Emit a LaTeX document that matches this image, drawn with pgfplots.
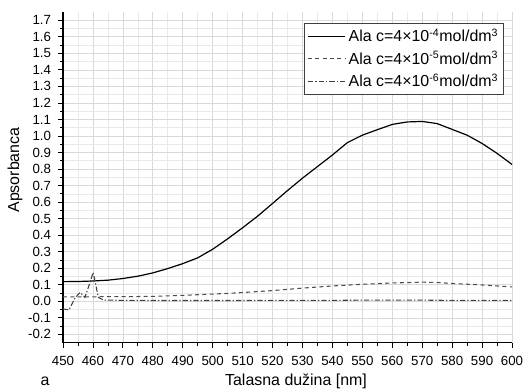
\documentclass[border=0pt]{standalone}
\usepackage{fontspec}
\setmainfont{Liberation Sans}
\usepackage{pgfplots}
\pgfplotsset{compat=1.18}
\begin{document}
\begin{tikzpicture}
\begin{axis}[
  scale only axis, width=336.75bp, height=248bp,
  xmin=450, xmax=600, ymin=-0.25, ymax=1.75,
  axis x line*=bottom, axis y line*=left,
  axis line style={black, line width=0.8pt, -},
  xtick={450,460,...,600}, minor x tick num=1,
  ytick={-0.2,-0.1,0,0.1,0.2,0.3,0.4,0.5,0.6,0.7,0.8,0.9,1.0,1.1,1.2,1.3,1.4,1.5,1.6,1.7},
  minor y tick num=1,
  tick align=outside,
  major tick length=4bp, minor tick length=2.5bp,
  tick style={black, line width=0.6pt},
  grid=both,
  major grid style={gray!30, line width=0.5pt},
  minor grid style={gray!17, line width=0.5pt},
  /pgf/number format/assume math mode=true,
  y tick label style={/pgf/number format/fixed, /pgf/number format/fixed zerofill, /pgf/number format/precision=1, xshift=-1.5bp},
  x tick label style={yshift=-2.5bp},
  tick label style={font=\fontsize{10}{12}\selectfont},
  xlabel={Talasna dužina [nm]},
  ylabel={Apsorbanca},
  label style={font=\fontsize{12}{14}\selectfont},
  xlabel style={at={(axis description cs:0.519,0)}, anchor=center, yshift=-28.7bp},
  ylabel style={at={(axis description cs:0,0.522)}, anchor=center, yshift=36bp},
  legend style={at={(axis description cs:1,1)}, anchor=north east, xshift=-6bp, yshift=-8.25bp,
    draw=black!75, line width=0.6pt, font=\fontsize{12}{14}\selectfont, fill=white,
    row sep=1.5bp, inner sep=2bp},
  legend cell align=left,
  legend image code/.code={\draw[#1] (0bp,0bp) -- (28bp,0bp);},
  clip=false,
]
\addplot[black, line width=0.9pt] coordinates {
(450,0.119) (455,0.120) (460,0.123) (465,0.128) (470,0.138) (475,0.152) (480,0.172)
(485,0.198) (490,0.228) (495,0.263) (500,0.315) (505,0.378) (510,0.445) (515,0.515)
(520,0.592) (525,0.670) (530,0.745) (535,0.815) (540,0.885) (545,0.960) (550,1.005)
(555,1.038) (560,1.070) (565,1.085) (570,1.088) (575,1.075) (580,1.040) (585,1.005)
(590,0.955) (595,0.895) (600,0.828)};
\addlegendentry{Ala c=4×10\textsuperscript{-4}mol/dm\textsuperscript{3}}
\addplot[black!70, line width=0.8pt, dash pattern=on 3bp off 2.5bp] coordinates {
(450,0.027) (455,0.027) (460,0.027) (462,0.028) (470,0.028) (480,0.030) (490,0.036)
(500,0.044) (505,0.048) (510,0.053) (520,0.065) (530,0.080) (540,0.093) (550,0.103)
(560,0.111) (570,0.116) (575,0.114) (580,0.108) (590,0.099) (600,0.087)};
\addlegendentry{Ala c=4×10\textsuperscript{-5}mol/dm\textsuperscript{3}}
\addplot[black!75, line width=0.8pt, dash pattern=on 4bp off 1.5bp on 1bp off 1.5bp] coordinates {
(450,-0.046) (452,-0.052) (454,0.02) (455.7,0.054) (457.3,0.024) (458.1,0.064)
(460.1,0.175) (461.8,0.024) (463.5,0.008) (470,0.006) (480,0.005) (490,0.005)
(500,0.005) (510,0.005) (520,0.006) (530,0.006) (540,0.006) (550,0.007) (560,0.007)
(570,0.007) (580,0.006) (590,0.006) (600,0.006)};
\addlegendentry{Ala c=4×10\textsuperscript{-6}mol/dm\textsuperscript{3}}
\node[font=\fontsize{12}{14}\selectfont] at ([shift={(-13.5bp,-28.7bp)}]rel axis cs:0,0) {a};
\end{axis}
\pgfresetboundingbox
\path[use as bounding box] ([shift={(-47.25bp,-37bp)}]current axis.south west) rectangle ([shift={(9bp,9bp)}]current axis.north east);
\end{tikzpicture}
\end{document}
